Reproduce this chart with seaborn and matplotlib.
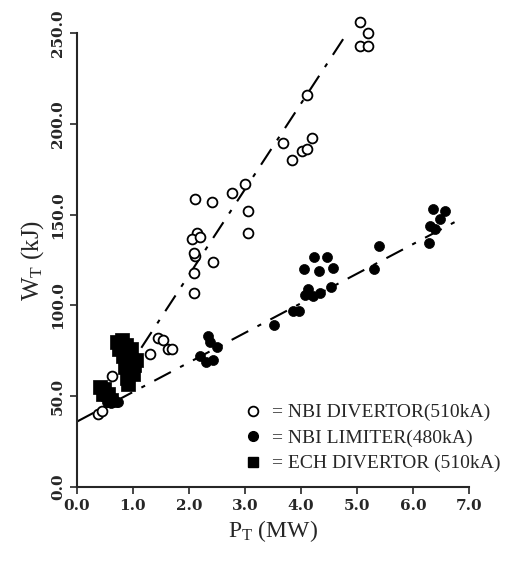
import numpy as np
import pandas as pd
import matplotlib
matplotlib.use("Agg")
import matplotlib.pyplot as plt
import seaborn as sns
from matplotlib.lines import Line2D

sns.set_style("ticks")
plt.rcParams["font.family"] = ["Liberation Serif", "DejaVu Serif"]
plt.rcParams["mathtext.fontset"] = "custom"
plt.rcParams["mathtext.rm"] = "Liberation Serif"
plt.rcParams["mathtext.it"] = "Liberation Serif"

# ── data ────────────────────────────────────────────────────────────────────
# NBI divertor (510kA) – open circles
div_p = [0.38, 0.45, 0.62, 1.30, 1.45, 1.54, 1.63, 1.69, 2.09, 2.09, 2.10, 2.09,
         2.43, 2.14, 2.05, 2.20, 2.10, 2.41, 2.77, 3.00, 3.05, 3.05, 3.68, 3.84,
         4.02, 4.10, 4.20, 4.10, 5.05, 5.20, 5.05, 5.20]
div_w = [40, 42, 61, 73, 82, 81, 76, 76, 107, 117.6, 127, 129,
         124, 140, 136.5, 137.5, 158.6, 157, 162, 167, 152, 140, 189.5, 180,
         185, 186, 192, 216, 256, 250, 243, 243]

# NBI limiter (480kA) – filled circles
lim_p = [0.41, 0.50, 0.53, 0.60, 0.65, 0.74, 2.20, 2.30, 2.34, 2.43, 2.50, 2.38,
         3.52, 3.86, 3.96, 4.07, 4.13, 4.21, 4.34, 4.53, 4.05, 4.32, 4.57, 4.23,
         4.46, 5.30, 5.39, 6.29, 6.30, 6.39, 6.48, 6.36, 6.57]
lim_w = [53.6, 50, 47, 46, 49, 47, 72, 69, 83, 70, 77, 80,
         89.5, 96.7, 96.7, 106, 109, 105, 107, 110, 120, 119, 120.5, 126.5,
         126.5, 120, 133, 134.6, 143.5, 142, 147.5, 153, 152]

# ECH divertor (510kA) – filled squares
ech_p = [0.72, 0.80, 0.88, 0.96, 0.92, 0.82, 0.97, 1.06, 0.86, 0.96, 1.00, 0.90,
         0.76, 0.88, 1.02, 0.92, 0.42, 0.48, 0.56, 0.46, 0.60]
ech_w = [80, 81, 78, 76, 74, 72, 70, 70, 66, 65, 62, 60,
         76, 68, 67, 57, 55, 54, 51, 51, 48]

# dashed trend lines: end points and (intercept, slope)
div_fit_p = [1.15, 4.85]
div_fit = (22.4, 47.2)
lim_fit_p = [0.0, 6.8]
lim_fit = (36.0, 16.3)

legend_labels = ["= NBI DIVERTOR(510kA)", "= NBI LIMITER(480kA)", "= ECH DIVERTOR (510kA)"]

df = pd.concat([
    pd.DataFrame({"P": div_p, "W": div_w, "grp": "div"}),
    pd.DataFrame({"P": lim_p, "W": lim_w, "grp": "lim"}),
    pd.DataFrame({"P": ech_p, "W": ech_w, "grp": "ech"}),
])

fig = plt.figure(figsize=(5.06, 5.62), dpi=100)
ax = fig.add_axes([0.152, 0.1335, 0.775, 0.8075])

for fp, (a, b) in [(div_fit_p, div_fit), (lim_fit_p, lim_fit)]:
    fp = np.array(fp)
    ax.plot(fp, a + b * fp, color="black", lw=1.5,
            linestyle=(0, (9, 5, 2, 5)), zorder=1)

sns.scatterplot(data=df[df.grp == "ech"], x="P", y="W", marker="s", s=95,
                color="black", edgecolor="black", linewidth=0.5, ax=ax,
                clip_on=False, zorder=3)
sns.scatterplot(data=df[df.grp == "lim"], x="P", y="W", marker="o", s=52,
                color="black", edgecolor="black", linewidth=0.5, ax=ax,
                clip_on=False, zorder=3)
sns.scatterplot(data=df[df.grp == "div"], x="P", y="W", marker="o", s=50,
                facecolor="white", edgecolor="black", linewidth=1.3, ax=ax,
                clip_on=False, zorder=4)

ax.set_xlim(0, 7)
ax.set_ylim(0, 250)
ax.set_xticks(np.arange(0, 7.1, 1.0))
ax.set_xticklabels([f"{v:.1f}" for v in np.arange(0, 7.1, 1.0)])
ax.set_yticks(np.arange(0, 251, 50))
ax.set_yticklabels([f"{v:.1f}" for v in np.arange(0, 251, 50)],
                   rotation=90, va="center")
ax.tick_params(axis="both", labelsize=11, length=5, width=1.2, direction="out")
for lab in ax.get_xticklabels() + ax.get_yticklabels():
    lab.set_family(["DejaVu Serif"])
    lab.set_fontweight("bold")
for s in ["left", "bottom"]:
    ax.spines[s].set_linewidth(1.5)
sns.despine(ax=ax)

ax.set_xlabel(r"P$_\mathrm{T}$ (MW)", fontsize=17, labelpad=4)
ax.set_ylabel(r"W$_\mathrm{T}$ (kJ)", fontsize=18, labelpad=4)

handles = [
    Line2D([], [], ls="", marker="o", ms=7, mfc="white", mec="black", mew=1.3),
    Line2D([], [], ls="", marker="o", ms=7, mfc="black", mec="black"),
    Line2D([], [], ls="", marker="s", ms=7, mfc="black", mec="black"),
]
ax.legend(handles, legend_labels, loc="lower right", bbox_to_anchor=(1.10, 0.015),
          frameon=False, fontsize=14, handletextpad=0.4, labelspacing=0.4,
          handlelength=1.2, borderaxespad=0)

fig.savefig("out.png", dpi=100)
